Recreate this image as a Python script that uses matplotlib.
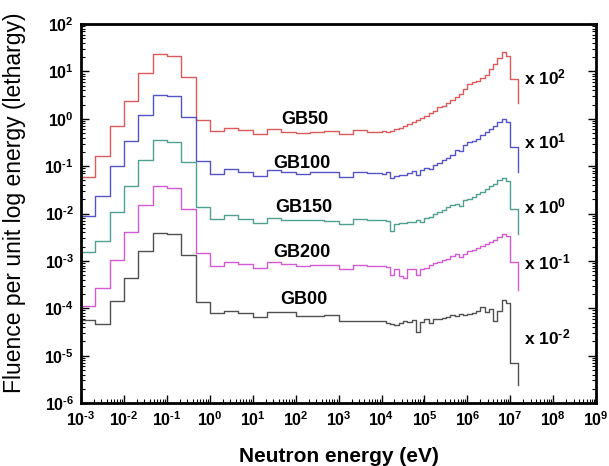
import numpy as np
import matplotlib
matplotlib.use('Agg')
import matplotlib.pyplot as plt
from matplotlib.ticker import LogLocator, NullFormatter, FixedLocator

plt.rcParams['font.family'] = ['Liberation Sans', 'DejaVu Sans']
plt.rcParams['mathtext.fontset'] = 'custom'
plt.rcParams['mathtext.rm'] = 'Liberation Sans'
plt.rcParams['mathtext.bf'] = 'Liberation Sans:bold'
plt.rcParams['mathtext.it'] = 'Liberation Sans:italic'

# ---- data: bin edges (log10 of energy in eV) ----
edges_exp = [-3.0, -2.667, -2.333, -2.0, -1.667, -1.333, -1.0, -0.667, -0.333, 0.0,
             0.333, 0.667, 1.0, 1.333, 1.667, 2.0, 2.333, 2.667, 3.0, 3.333, 3.667, 4.0,
             4.1, 4.2, 4.3, 4.4, 4.5, 4.6, 4.7, 4.8, 4.9, 5.0,
             5.1, 5.2, 5.3, 5.4, 5.5, 5.6, 5.7, 5.8, 5.9, 6.0,
             6.1, 6.2, 6.3, 6.4, 6.5, 6.6, 6.7, 6.8, 6.9, 7.0, 7.18]

# log10 of fluence per bin (52 bins) followed by end value of the final drop
gb50_log = [-1.23, -0.79, -0.16, 0.37, 0.97, 1.36, 1.33, 0.89, -0.03, -0.26,
            -0.19, -0.24, -0.32, -0.21, -0.27, -0.30, -0.28, -0.26, -0.33, -0.24, -0.27,
            -0.25, -0.27, -0.25, -0.22, -0.19, -0.15, -0.12, -0.07, -0.03, 0.02,
            0.05, 0.12, 0.16, 0.24, 0.28, 0.34, 0.40, 0.46, 0.52, 0.62,
            0.74, 0.77, 0.80, 0.86, 0.93, 1.05, 1.15, 1.28, 1.40, 1.32,
            0.83, 0.33]
gb100_log = [-2.06, -1.62, -1.00, -0.47, 0.09, 0.51, 0.48, 0.04, -0.89, -1.16,
             -1.07, -1.12, -1.21, -1.09, -1.12, -1.16, -1.13, -1.13, -1.22, -1.13, -1.15,
             -1.16, -1.13, -1.24, -1.20, -1.19, -1.19, -1.15, -1.11, -1.18, -1.08,
             -1.04, -1.07, -0.98, -0.94, -0.88, -0.82, -0.76, -0.66, -0.68, -0.55,
             -0.50, -0.47, -0.42, -0.34, -0.28, -0.21, -0.16, -0.06, -0.01, -0.07,
             -0.59, -1.12]
gb150_log = [-2.81, -2.57, -1.97, -1.41, -0.88, -0.45, -0.49, -0.91, -1.86, -2.12,
             -2.04, -2.11, -2.20, -2.09, -2.13, -2.14, -2.14, -2.16, -2.23, -2.11, -2.13,
             -2.13, -2.15, -2.36, -2.22, -2.21, -2.20, -2.18, -2.17, -2.14, -2.18,
             -2.10, -2.07, -2.02, -1.97, -1.93, -1.87, -1.83, -1.79, -1.84, -1.72,
             -1.69, -1.66, -1.58, -1.55, -1.48, -1.42, -1.37, -1.30, -1.26, -1.31,
             -1.90, -2.43]
gb200_log = [-3.96, -3.57, -2.99, -2.40, -1.83, -1.42, -1.46, -1.90, -2.84, -3.10,
             -3.02, -3.06, -3.15, -3.03, -3.06, -3.10, -3.09, -3.09, -3.16, -3.08, -3.10,
             -3.10, -3.13, -3.30, -3.16, -3.32, -3.35, -3.17, -3.18, -3.30, -3.16,
             -3.14, -3.09, -3.05, -3.02, -2.98, -2.95, -2.90, -2.86, -2.92, -2.85,
             -2.80, -2.76, -2.72, -2.68, -2.64, -2.60, -2.56, -2.50, -2.43, -2.47,
             -3.02, -3.62]
gb00_log = [-4.24, -4.34, -3.85, -3.36, -2.78, -2.41, -2.44, -2.87, -3.87, -4.10,
            -4.06, -4.10, -4.18, -4.08, -4.08, -4.17, -4.16, -4.15, -4.27, -4.27, -4.26,
            -4.27, -4.30, -4.33, -4.36, -4.30, -4.27, -4.29, -4.25, -4.49, -4.28,
            -4.22, -4.31, -4.23, -4.22, -4.21, -4.18, -4.15, -4.17, -4.13, -4.15,
            -4.12, -4.09, -4.05, -3.97, -4.08, -4.02, -4.27, -4.06, -3.83, -3.88,
            -5.15, -5.62]

series_names = ['GB50', 'GB100', 'GB150', 'GB200', 'GB00']
series_data = [gb50_log, gb100_log, gb150_log, gb200_log, gb00_log]
series_colors = ['#dc5a5a', '#5454c8', '#4fa090', '#d45ad4', '#505050']
multipliers = [2, 1, 0, -1, -2]

# label positions (axes fraction)
name_pos = [(0.435, 0.747), (0.429, 0.633), (0.433, 0.517), (0.429, 0.398), (0.433, 0.272)]
mult_pos = [(0.860, 0.858), (0.860, 0.689), (0.860, 0.520), (0.860, 0.372), (0.860, 0.174)]


def exp_str(k):
    # short hyphen like the reference instead of a long minus sign
    return ('\u2010%d' % (-k)) if k < 0 else ('%d' % k)


fig = plt.figure(figsize=(6.09, 4.66), dpi=100)
ax = fig.add_axes([0.133, 0.135, 0.846, 0.8135])

x = 10.0 ** np.array(edges_exp)
for vals, col in zip(series_data, series_colors):
    ax.step(x, 10.0 ** np.array(vals), where='post', color=col, lw=1.0)

ax.set_xscale('log')
ax.set_yscale('log')
ax.set_xlim(1e-3, 1e9)
ax.set_ylim(1e-6, 1e2)

xk = list(range(-3, 10))
ax.xaxis.set_major_locator(FixedLocator([10.0 ** k for k in xk]))
ax.set_xticklabels([r'$\mathbf{10^{%s}}$' % exp_str(k) for k in xk], fontsize=11.5)
yk = list(range(-6, 3))
ax.yaxis.set_major_locator(FixedLocator([10.0 ** k for k in yk]))
ax.set_yticklabels([r'$\mathbf{10^{%s}}$' % exp_str(k) for k in yk], fontsize=11.5)
ax.xaxis.set_minor_locator(LogLocator(base=10, subs=np.arange(2, 10), numticks=100))
ax.yaxis.set_minor_locator(LogLocator(base=10, subs=np.arange(2, 10), numticks=100))
ax.xaxis.set_minor_formatter(NullFormatter())
ax.yaxis.set_minor_formatter(NullFormatter())

ax.tick_params(which='major', direction='in', length=6, width=1.0, top=False, right=True,
               pad=5)
ax.tick_params(which='minor', direction='in', length=3, width=0.8, top=False, right=True)
for s in ax.spines.values():
    s.set_linewidth(2.0)

for name, (px, py) in zip(series_names, name_pos):
    ax.text(px, py, name, transform=ax.transAxes, ha='center', va='center',
            fontsize=13, fontweight='bold')
for m, (px, py) in zip(multipliers, mult_pos):
    ax.text(px, py, r'$\mathbf{x\ 10^{%s}}$' % exp_str(m), transform=ax.transAxes,
            ha='left', va='center', fontsize=12.5)

ax.set_xlabel('Neutron energy (eV)', fontsize=15, fontweight='bold', labelpad=13)
fig.text(0.023, 0.565, 'Fluence per unit log energy (lethargy)', rotation=90,
         ha='center', va='center', fontsize=16.5)

fig.savefig('out.png', dpi=100)
